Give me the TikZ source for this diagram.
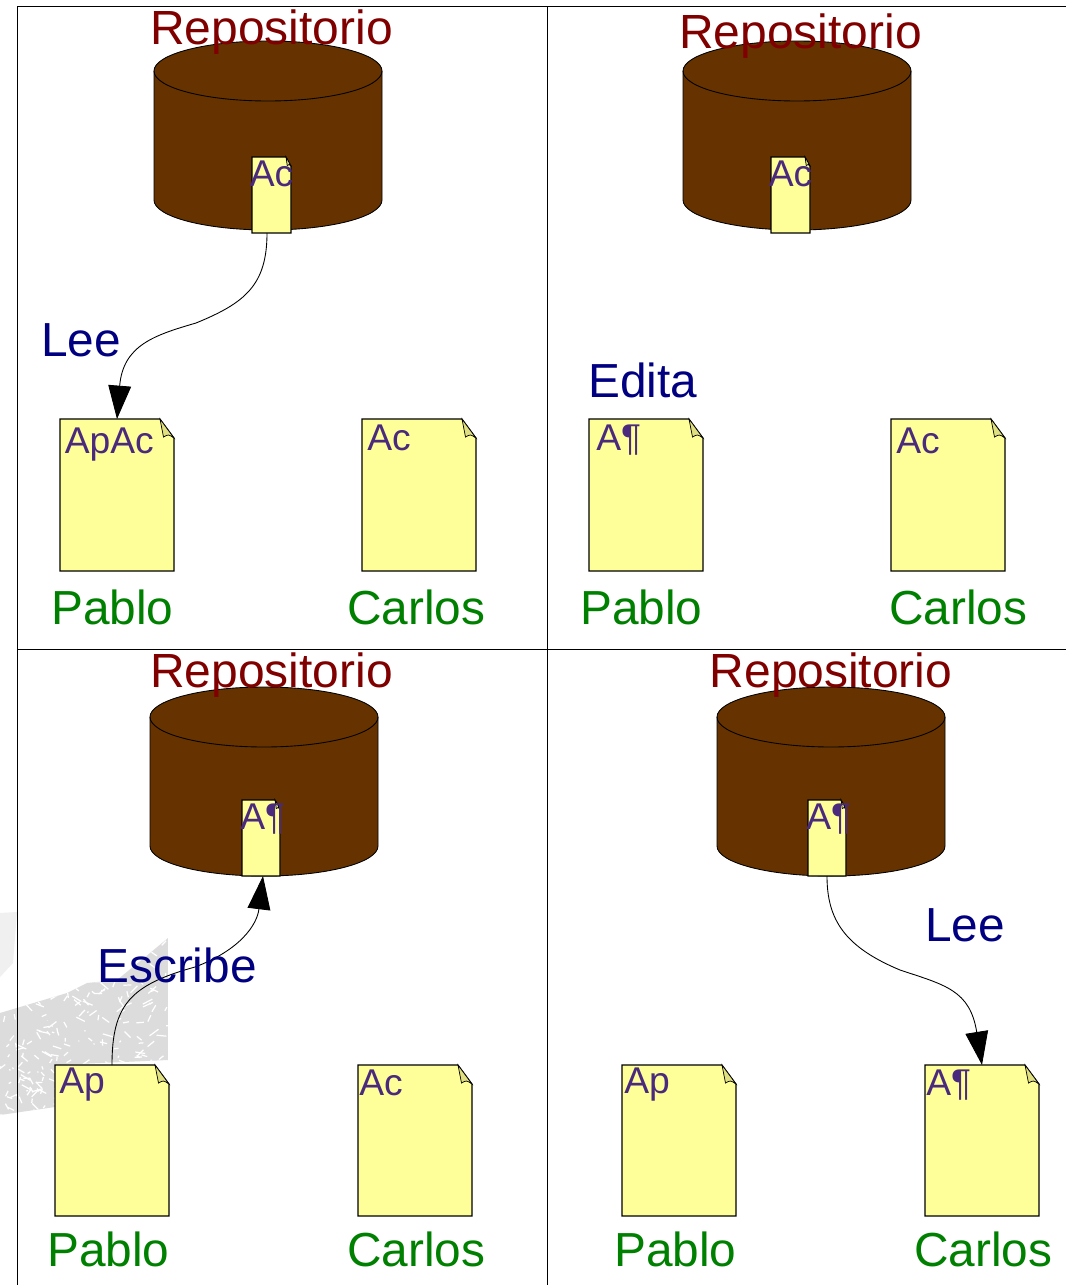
\documentclass[tikz,border=0pt]{standalone}
\usepackage{fontspec}
\setmainfont{Liberation Sans}
\usetikzlibrary{arrows.meta,calc}
\definecolor{marron}{HTML}{663300}
\definecolor{papel}{HTML}{FFFF99}
\definecolor{pliegue}{HTML}{E0E080}
\definecolor{morado}{HTML}{4A2A7D}
\definecolor{rojo}{HTML}{800000}
\definecolor{azul}{HTML}{000080}
\definecolor{verde}{HTML}{008000}
\definecolor{mancha}{HTML}{DCDCDC}
\definecolor{manchaclara}{HTML}{F0F0F0}
\tikzset{
  hoja/.style={rectangle,inner sep=0pt,outer sep=0pt,anchor=north west},
  titulo/.style={anchor=base,text=rojo,font=\fontsize{27.3}{27.3}\selectfont,inner sep=0pt},
  accion/.style={anchor=base west,text=azul,font=\fontsize{27.2}{27.2}\selectfont,inner sep=0pt},
  persona/.style={anchor=base west,text=verde,font=\fontsize{27.2}{27.2}\selectfont,inner sep=0pt},
  contenido/.style={anchor=base west,text=morado,font=\fontsize{21.2}{21.2}\selectfont,inner sep=0pt},
  flecha/.style={-{Triangle[length=19pt,width=13pt]},line width=0.5pt}
}
% #1 nombre, #2 x, #3 y, #4 ancho, #5 alto, #6 #7 pliegue
\newcommand{\hojita}[7]{
  \node[hoja,minimum width=#4*0.02cm,minimum height=#5*0.02cm] (#1) at (#2,#3) {};
  \filldraw[fill=papel,line width=0.6pt] (#1.north west) -- ($(#1.north east)+(-#6,0)$)
    -- ($(#1.north east)+(0,#7)$) -- (#1.south east) -- (#1.south west) -- cycle;
  \filldraw[fill=pliegue,line width=0.4pt] ($(#1.north east)+(-#6,0)$) -- ($(#1.north east)+(0,#7)$)
    .. controls ($(#1.north east)+(-#6*0.4,#7*0.8)$) .. ($(#1.north east)+(-#6*0.75,#7*0.95)$) -- cycle;
}
% #1 x izquierda, #2 y de la tapa
\newcommand{\cilindro}[2]{
  \filldraw[fill=marron,line width=0.5pt] (#1,#2) arc[start angle=180,end angle=360,x radius=114,y radius=30]
    -- ++(0,129) arc[start angle=0,end angle=180,x radius=114,y radius=30] -- cycle;
  \draw[line width=0.5pt] (#1,#2) arc[start angle=180,end angle=0,x radius=114,y radius=30];
}
\begin{document}
\begin{tikzpicture}[x=0.02cm,y=-0.02cm]
    \useasboundingbox (0,0) rectangle (1066,1285);
    \fill[white] (0,0) rectangle (1066,1285);
    % mancha del fondo
    \fill[manchaclara] (0,913) -- (17,912) -- (13,963) -- (0,977) -- cycle;
    \begin{scope}
      \clip (0,1013) -- (67,993) -- (87,983) -- (117,980) -- (150,953) -- (168,938)
        -- (168,1060) -- (55,1065) -- (55,1107) -- (0,1115) -- cycle;
      \fill[mancha] (0,930) rectangle (168,1120);
      \pgfmathsetseed{7}
      \foreach \i in {1,...,300} {
        \pgfmathsetmacro{\mx}{rnd*168}
        \pgfmathsetmacro{\my}{930+rnd*190}
        \pgfmathsetmacro{\mdx}{rnd*20-10}
        \pgfmathsetmacro{\mdy}{rnd*14-7}
        \draw[white,line width=0.7pt] (\mx,\my) -- ++(\mdx,\mdy);
      }
    \end{scope}
    % lineas de los cuadros
    \draw[line width=0.5pt] (17,6) -- (1066,6);
    \draw[line width=0.5pt] (17,649) -- (1066,649);
    \draw[line width=0.5pt] (17,6) -- (17,1285);
    \draw[line width=0.5pt] (547,6) -- (547,1285);
    % repositorios
    \cilindro{154}{71}
    \cilindro{683}{71}
    \cilindro{150}{717}
    \cilindro{717}{717}
    \node[titulo] (repoA) at (271.5,44) {Repositorio};
    \node[titulo] (repoB) at (800.5,48) {Repositorio};
    \node[titulo] (repoC) at (271.5,687) {Repositorio};
    \node[titulo] (repoD) at (831,687) {Repositorio};
    \hojita{remA}{252}{157}{39}{76}{5}{9}
    \hojita{remB}{771}{157}{39}{76}{5}{9}
    \hojita{remC}{242}{800}{38}{76}{5}{9}
    \hojita{remD}{808}{800}{38}{76}{5}{9}
    \node[contenido] (txtRemA) at (249.5,186) {Ac};
    \node[contenido] (txtRemB) at (768.5,186) {Ac};
    \node[contenido] (txtRemC) at (240,829) {A¶};
    \node[contenido] (txtRemD) at (806,829) {A¶};
    % copias locales
    \hojita{pabloA}{60}{419}{114}{152}{14}{19}
    \hojita{carlosA}{362}{419}{114}{152}{14}{19}
    \hojita{pabloB}{589}{419}{114}{152}{14}{19}
    \hojita{carlosB}{891}{419}{114}{152}{14}{19}
    \hojita{pabloC}{55}{1065}{114}{151}{14}{19}
    \hojita{carlosC}{358}{1065}{114}{151}{14}{19}
    \hojita{pabloD}{622}{1065}{114}{151}{14}{19}
    \hojita{carlosD}{925}{1065}{114}{151}{14}{19}
    \node[contenido] (txtPabloA) at (64.5,453) {ApAc};
    \node[contenido] (txtCarlosA) at (367,450) {Ac};
    \node[contenido] (txtPabloB) at (596,450) {A¶};
    \node[contenido] (txtCarlosB) at (896,453) {Ac};
    \node[contenido] (txtPabloC) at (59,1093) {Ap};
    \node[contenido] (txtCarlosC) at (359,1095) {Ac};
    \node[contenido] (txtPabloD) at (624,1093) {Ap};
    \node[contenido] (txtCarlosD) at (926,1095) {A¶};
    % nombres
    \node[persona] (nomPabloA) at (51,624) {Pablo};
    \node[persona] (nomCarlosA) at (347,624) {Carlos};
    \node[persona] (nomPabloB) at (580,624) {Pablo};
    \node[persona] (nomCarlosB) at (889,624) {Carlos};
    \node[persona] (nomPabloC) at (47,1266) {Pablo};
    \node[persona] (nomCarlosC) at (347,1266) {Carlos};
    \node[persona] (nomPabloD) at (614,1266) {Pablo};
    \node[persona] (nomCarlosD) at (914,1266) {Carlos};
    % flechas
    \draw[flecha] ($(remA.south)+(-4.5,0)$) .. controls (267,285) and (245,303) .. (196,323)
      .. controls (155,335) and (123,345) .. (pabloA.north);
    \draw[flecha] (pabloC.north) .. controls (112,1005) and (130,985) .. (195,967)
      .. controls (240,950) and (257,925) .. ($(remC.south)+(2,0)$);
    \draw[flecha] (remD.south) .. controls (827,920) and (845,947) .. (900,970)
      .. controls (945,985) and (970,990) .. (carlosD.north);
    % acciones
    \node[accion] (leeA) at (41,356) {Lee};
    \node[accion] (edita) at (588,397) {Edita};
    \node[accion] (escribe) at (97,982) {Escribe};
    \node[accion] (leeD) at (925,941) {Lee};
\end{tikzpicture}
\end{document}
